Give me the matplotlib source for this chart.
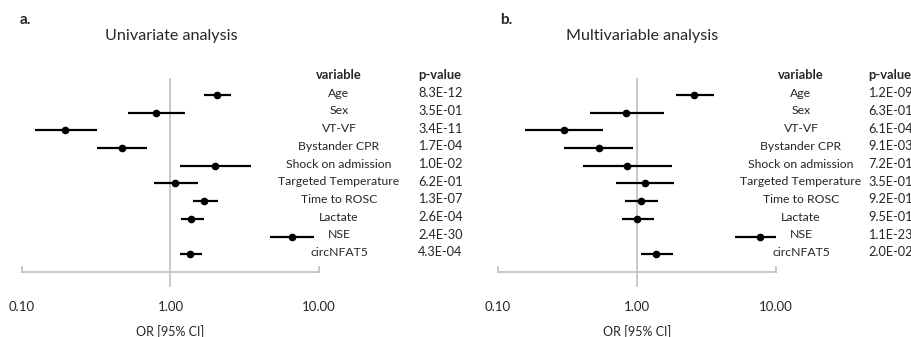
import matplotlib
matplotlib.use("Agg")
import matplotlib.pyplot as plt
from matplotlib.transforms import blended_transform_factory
import numpy as np

plt.rcParams['font.family'] = ['Lato', 'DejaVu Sans']

variables = ["Age", "Sex", "VT-VF", "Bystander CPR", "Shock on admission",
             "Targeted Temperature", "Time to ROSC", "Lactate", "NSE", "circNFAT5"]

uni_or = [2.07, 0.80, 0.196, 0.475, 1.98, 1.08, 1.69, 1.38, 6.6, 1.36]
uni_lo = [1.67, 0.52, 0.122, 0.32, 1.15, 0.77, 1.41, 1.17, 4.7, 1.15]
uni_hi = [2.57, 1.26, 0.32, 0.70, 3.46, 1.52, 2.10, 1.69, 9.3, 1.64]
uni_p = ["8.3E-12", "3.5E-01", "3.4E-11", "1.7E-04", "1.0E-02",
         "6.2E-01", "1.3E-07", "2.6E-04", "2.4E-30", "4.3E-04"]

multi_or = [2.57, 0.83, 0.30, 0.53, 0.85, 1.14, 1.07, 1.00, 7.7, 1.37]
multi_lo = [1.91, 0.46, 0.156, 0.30, 0.41, 0.71, 0.82, 0.78, 5.07, 1.07]
multi_hi = [3.58, 1.56, 0.57, 0.93, 1.79, 1.85, 1.42, 1.32, 10.0, 1.81]
multi_p = ["1.2E-09", "6.3E-01", "6.1E-04", "9.1E-03", "7.2E-01",
           "3.5E-01", "9.2E-01", "9.5E-01", "1.1E-23", "2.0E-02"]

xticks = [0.1, 1, 10]
xticklabels = ["0.10", "1.00", "10.00"]

W, H = 912, 337
fig = plt.figure(figsize=(W / 100, H / 100), dpi=100)

TXT = '#262626'
GRID = '#bfbfbf'


def panel(x0, x1, ors, lo, hi, pvals, letter, letter_x, title, title_x, var_x, p_x):
    top, bot = 78, 287
    ax = fig.add_axes([x0 / W, (H - bot) / H, (x1 - x0) / W, (bot - top) / H])
    ax.set_xscale('log')
    ax.set_xlim(0.1, 10)
    ax.set_ylim(10.85, -0.96)
    for s in ax.spines.values():
        s.set_visible(False)
    ax.set_yticks([])
    ax.set_xticks(xticks)
    ax.set_xticklabels(xticklabels, fontsize=9.5, color=TXT)
    ax.minorticks_off()
    ax.tick_params(axis='x', length=0, pad=10)
    ax.axvline(1, color=GRID, lw=1.2, zorder=0)
    ax.plot([0.1, 10], [10, 10], color=GRID, lw=1.2, clip_on=False)
    ax.plot([0.1, 0.1], [10, 9.72], color=GRID, lw=1.2, clip_on=False)
    ax.plot([10, 10], [10, 9.72], color=GRID, lw=1.2, clip_on=False)
    y = np.arange(len(variables))
    ors = np.array(ors); lo = np.array(lo); hi = np.array(hi)
    ax.errorbar(ors, y, xerr=[ors - lo, hi - ors], fmt='o', color='black',
                ms=4.5, lw=1.6, capsize=0, clip_on=False)
    ax.set_xlabel("OR [95% CI]", fontsize=9, color=TXT, labelpad=9)
    tr = blended_transform_factory(fig.transFigure, ax.transData)
    ax.text(var_x / W, -1.13, "variable", transform=tr, ha='center', va='center',
            fontsize=9.3, fontweight='bold', color=TXT)
    ax.text(p_x / W, -1.13, "p-value", transform=tr, ha='left', va='center',
            fontsize=9.3, fontweight='bold', color=TXT)
    for i, (v, p) in enumerate(zip(variables, pvals)):
        ax.text(var_x / W, i - 0.1, v, transform=tr, ha='center', va='center',
                fontsize=8.8, color=TXT)
        ax.text(p_x / W, i - 0.1, p, transform=tr, ha='left', va='center',
                fontsize=9.2, color=TXT)
    fig.text(letter_x / W, 1 - 20 / H, letter, fontsize=11, fontweight='bold',
             color=TXT, ha='left', va='center')
    fig.text(title_x / W, 1 - 36 / H, title, fontsize=11.6, color=TXT,
             ha='center', va='center')
    return ax


panel(22, 319, uni_or, uni_lo, uni_hi, uni_p, "a.", 20, "Univariate analysis", 171, 339, 418)
panel(498, 776, multi_or, multi_lo, multi_hi, multi_p, "b.", 500, "Multivariable analysis", 642, 801, 868)

fig.savefig("out.png", dpi=100, facecolor='white')
